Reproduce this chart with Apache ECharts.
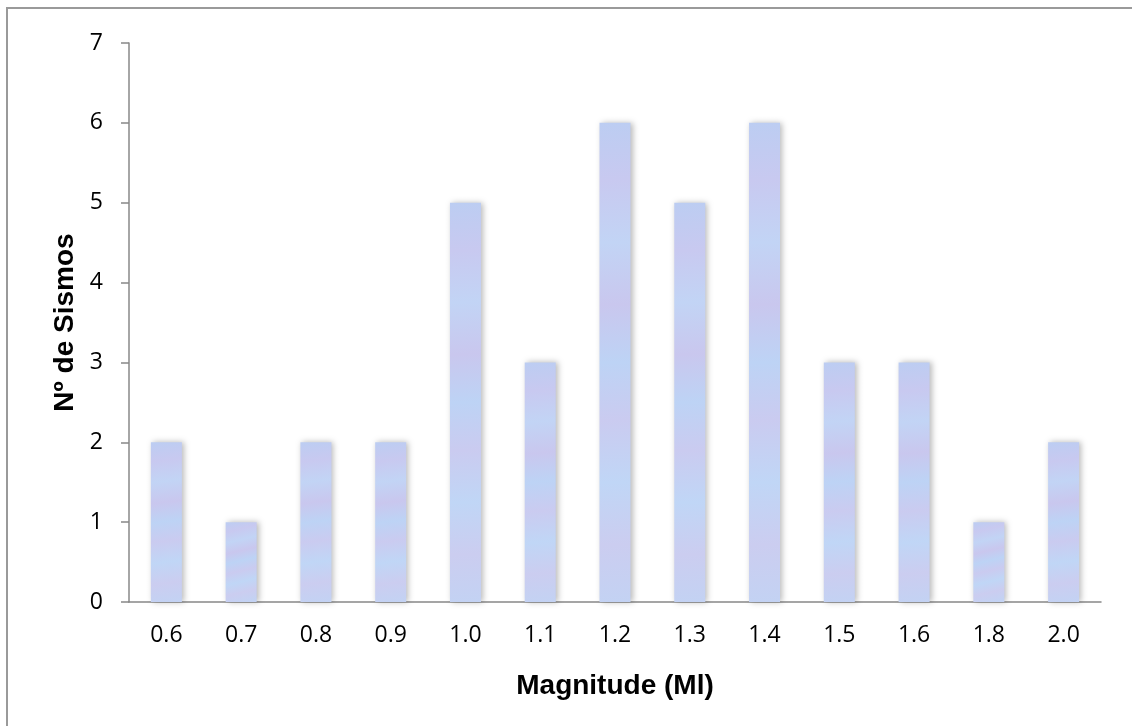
<!DOCTYPE html>
<html>
<head>
<meta charset="utf-8">
<script src="https://cdn.jsdelivr.net/npm/echarts@6/dist/echarts.min.js"></script>
<style>
  html, body { margin: 0; padding: 0; background: #fff; }
  #chart { width: 1132px; height: 726px; }
</style>
</head>
<body>
<div id="chart"></div>
<script>
const magnitudes = ["0.6", "0.7", "0.8", "0.9", "1.0", "1.1", "1.2", "1.3", "1.4", "1.5", "1.6", "1.8", "2.0"];
const counts = [2, 1, 2, 2, 5, 3, 6, 5, 6, 3, 3, 1, 2];
const yTicks = { min: 0, max: 7, interval: 1 };

const chart = echarts.init(document.getElementById("chart"));

// light blue / lavender fill, a bit mottled
const barFill = new echarts.graphic.LinearGradient(0, 0, 0.6, 1, [
  { offset: 0, color: "#bccdf2" },
  { offset: 0.12, color: "#c8c9f0" },
  { offset: 0.25, color: "#c2d4f5" },
  { offset: 0.38, color: "#c9c7ee" },
  { offset: 0.5, color: "#bdd3f5" },
  { offset: 0.62, color: "#cacbf0" },
  { offset: 0.75, color: "#c0d6f6" },
  { offset: 0.88, color: "#cbcdf0" },
  { offset: 1, color: "#c3d2f3" }
]);

const axisFont = "'Open Sans', sans-serif";
const nameFont = "'Liberation Sans', Arial, sans-serif";

chart.setOption({
  backgroundColor: "#fff",
  animation: false,
  graphic: [
    {
      type: "rect",
      silent: true,
      shape: { x: 7, y: 8, width: 1140, height: 740 },
      style: { fill: "none", stroke: "#9a9a9a", lineWidth: 2 }
    }
  ],
  grid: { left: 129, top: 43, right: 31, bottom: 124 },
  xAxis: {
    type: "category",
    data: magnitudes,
    name: "Magnitude (Ml)",
    nameLocation: "middle",
    nameGap: 70,
    nameTextStyle: { fontFamily: nameFont, fontWeight: "bold", fontSize: 28, color: "#000" },
    axisLine: { lineStyle: { color: "#888", width: 1.5 } },
    axisTick: { alignWithLabel: false, length: 8, lineStyle: { color: "#888", width: 1.5 } },
    axisLabel: { margin: 22, fontFamily: axisFont, fontSize: 23, color: "#000" },
    splitLine: { show: false }
  },
  yAxis: {
    type: "value",
    min: yTicks.min,
    max: yTicks.max,
    interval: yTicks.interval,
    name: "Nº de Sismos",
    nameLocation: "middle",
    nameGap: 49,
    nameRotate: 90,
    nameTextStyle: { fontFamily: nameFont, fontWeight: "bold", fontSize: 28, color: "#000" },
    axisLine: { show: true, lineStyle: { color: "#888", width: 1.5 } },
    axisTick: { show: true, length: 8, lineStyle: { color: "#888", width: 1.5 } },
    axisLabel: { margin: 26, fontFamily: axisFont, fontSize: 23, color: "#000" },
    splitLine: { show: false }
  },
  series: [
    {
      type: "bar",
      data: counts,
      barWidth: 31,
      itemStyle: {
        color: barFill,
        shadowBlur: 6,
        shadowColor: "rgba(0,0,0,0.28)",
        shadowOffsetX: 2,
        shadowOffsetY: 0
      }
    }
  ]
});
</script>
</body>
</html>
